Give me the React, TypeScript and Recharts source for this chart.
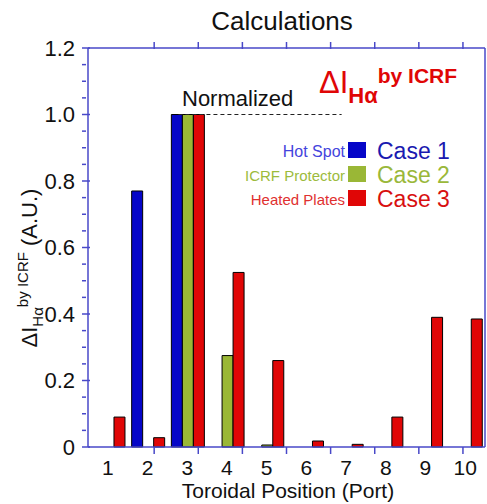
import React from 'react';
import { BarChart, Bar, XAxis, YAxis, ReferenceLine } from 'recharts';

// toroidal port positions
const ports = ['1', '2', '3', '4', '5', '6', '7', '8', '9', '10'];

// Case 1: hot spot, Case 2: ICRF protector, Case 3: heated plates
const hotSpot = [0, 0.77, 1.0, 0, 0, 0, 0, 0, 0, 0];
const icrfProtector = [0, 0, 1.0, 0.275, 0.006, 0, 0, 0, 0, 0];
const heatedPlates = [0.09, 0.028, 1.0, 0.525, 0.26, 0.018, 0.008, 0.09, 0.39, 0.385];

const yTicks = [
  0, 0.05, 0.1, 0.15, 0.2, 0.25, 0.3, 0.35, 0.4, 0.45, 0.5, 0.55, 0.6,
  0.65, 0.7, 0.75, 0.8, 0.85, 0.9, 0.95, 1.0, 1.05, 1.1, 1.15, 1.2,
];
const yMajorTicks = [0, 0.2, 0.4, 0.6, 0.8, 1.0, 1.2];
const portEdges = [1.5, 2.5, 3.5, 4.5, 5.5, 6.5, 7.5, 8.5, 9.5];

const data = ports.map((port, i) => ({
  port,
  hotSpot: hotSpot[i],
  icrfProtector: icrfProtector[i],
  heatedPlates: heatedPlates[i],
}));

const BLUE = '#0606c8';
const GREEN = '#9ab736';
const RED = '#e00606';
const AXIS = '#4848c8';
const FONT = '"Liberation Sans", Arial, Helvetica, sans-serif';

const isMajor = (v: number) => yMajorTicks.some((m) => Math.abs(m - v) < 1e-6);

const LeftTick = ({ x, y, payload }: any) => {
  const major = isMajor(payload.value);
  return (
    <g>
      <line x1={x} x2={x + (major ? 8 : 4)} y1={y} y2={y} stroke={AXIS} strokeWidth={1.5} />
      {major && (
        <text x={x - 7} y={y} dy="0.36em" textAnchor="end" fontSize={22} fontFamily={FONT} fill="#111">
          {payload.value === 0 ? '0' : payload.value.toFixed(1)}
        </text>
      )}
    </g>
  );
};

const RightTick = ({ x, y, payload }: any) => {
  const major = isMajor(payload.value);
  return <line x1={x} x2={x - (major ? 8 : 4)} y1={y} y2={y} stroke={AXIS} strokeWidth={1.5} />;
};

const TopTick = ({ x, y }: any) => (
  <line x1={x} x2={x} y1={y} y2={y + 7} stroke={AXIS} strokeWidth={1.5} />
);

const BottomEdgeTick = ({ x, y }: any) => (
  <line x1={x} x2={x} y1={y} y2={y - 7} stroke={AXIS} strokeWidth={1.5} />
);

const PortTick = ({ x, y, payload }: any) => (
  <text x={x} y={y + 22} textAnchor="middle" fontSize={21} fontFamily={FONT} fill="#111">
    {payload.value}
  </text>
);

export default function App() {
  return (
    <div style={{ position: 'absolute', left: 0, top: 0, width: 487, height: 504, background: '#fff' }}>
      <BarChart
        width={487}
        height={504}
        data={data}
        margin={{ top: 47, right: 1, bottom: 55, left: 87 }}
        barCategoryGap="10%"
        barGap={0}
      >
        <XAxis
          xAxisId="cat"
          dataKey="port"
          height={1}
          axisLine={{ stroke: AXIS, strokeWidth: 1.5 }}
          tickLine={false}
          tickMargin={0}
          interval={0}
          tick={<PortTick />}
        />
        <XAxis
          xAxisId="edges"
          type="number"
          domain={[0.5, 10.5]}
          allowDataOverflow
          ticks={portEdges}
          height={1}
          axisLine={false}
          tickLine={false}
          tickMargin={0}
          interval={0}
          tick={<BottomEdgeTick />}
        />
        <XAxis
          xAxisId="top"
          orientation="top"
          type="number"
          domain={[0.5, 10.5]}
          allowDataOverflow
          ticks={portEdges}
          height={1}
          axisLine={{ stroke: AXIS, strokeWidth: 1.5 }}
          tickLine={false}
          tickMargin={0}
          interval={0}
          tick={<TopTick />}
        />
        <YAxis
          yAxisId="left"
          domain={[0, 1.2]}
          ticks={yTicks}
          width={1}
          axisLine={{ stroke: AXIS, strokeWidth: 1.5 }}
          tickLine={false}
          tickMargin={0}
          interval={0}
          tick={<LeftTick />}
        />
        <YAxis
          yAxisId="right"
          orientation="right"
          domain={[0, 1.2]}
          ticks={yTicks}
          width={1}
          axisLine={{ stroke: AXIS, strokeWidth: 1.5 }}
          tickLine={false}
          tickMargin={0}
          interval={0}
          tick={<RightTick />}
        />
        <ReferenceLine
          xAxisId="top"
          yAxisId="left"
          segment={[{ x: 2.05, y: 1.0 }, { x: 5.75, y: 1.0 }]}
          stroke="#222"
          strokeDasharray="4 3"
        />
        <Bar xAxisId="cat" yAxisId="left" dataKey="hotSpot" fill={BLUE} stroke="#000" strokeWidth={1} isAnimationActive={false} />
        <Bar xAxisId="cat" yAxisId="left" dataKey="icrfProtector" fill={GREEN} stroke="#000" strokeWidth={1} isAnimationActive={false} />
        <Bar xAxisId="cat" yAxisId="left" dataKey="heatedPlates" fill={RED} stroke="#000" strokeWidth={1} isAnimationActive={false} />
      </BarChart>

      <svg
        width={487}
        height={504}
        style={{ position: 'absolute', left: 0, top: 0, pointerEvents: 'none' }}
        fontFamily={FONT}
      >
        <text x={282} y={30} textAnchor="middle" fontSize={26} fill="#111">Calculations</text>
        <text x={182} y={106} fontSize={22} fill="#111">Normalized</text>

        <text x={319} y={93} fontSize={31} fill={RED}>
          ΔI
          <tspan fontSize={22} fontWeight="bold" dy={10}>Hα</tspan>
          <tspan fontSize={21} fontWeight="bold" dy={-20}>by ICRF</tspan>
        </text>

        <text x={345} y={157} textAnchor="end" fontSize={16} fill="#4444dd">Hot Spot</text>
        <rect x={348} y={142} width={18} height={16} fill={BLUE} />
        <text x={377} y={159} fontSize={23} fill="#1a1ab0">Case 1</text>

        <text x={345} y={181} textAnchor="end" fontSize={15} fill="#9cbb3c">ICRF Protector</text>
        <rect x={348} y={166} width={18} height={16} fill={GREEN} />
        <text x={377} y={183} fontSize={23} fill="#9ab83a">Case 2</text>

        <text x={345} y={205} textAnchor="end" fontSize={15} fill="#e03030">Heated Plates</text>
        <rect x={348} y={190} width={18} height={16} fill={RED} />
        <text x={377} y={207} fontSize={23} fill="#d81010">Case 3</text>

        <text transform="translate(37, 268) rotate(-90)" textAnchor="middle" fontSize={22} fill="#111">
          ΔI
          <tspan fontSize={15} dy={6}>Hα</tspan>
          <tspan fontSize={15} dy={-15}>by ICRF</tspan>
          <tspan dy={9}> (A.U.)</tspan>
        </text>

        <text x={288} y={498} textAnchor="middle" fontSize={21} fill="#111">Toroidal Position (Port)</text>
      </svg>
    </div>
  );
}
